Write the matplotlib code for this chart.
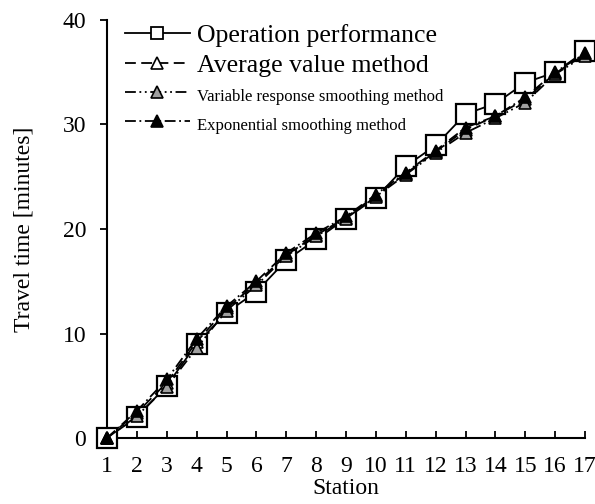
import numpy as np
import matplotlib.pyplot as plt
from matplotlib.lines import Line2D

plt.rcParams['font.family'] = ['Liberation Serif', 'DejaVu Serif']

# data
stations = np.arange(1, 18)
operation = [0, 2, 5, 9, 12, 14, 17, 19, 21, 23, 26, 28, 31, 32, 34, 35, 37]
average = [0, 2.4, 5.3, 9.2, 12.4, 14.8, 17.5, 19.4, 21.1, 23.2, 25.3, 27.4, 29.5, 30.8, 32.4, 34.9, 36.7]
variable = [0, 2.1, 4.9, 8.6, 12.2, 14.6, 17.4, 19.3, 21.0, 23.1, 25.2, 27.3, 29.2, 30.6, 32.1, 34.8, 36.6]
exponential = [0, 2.6, 5.6, 9.5, 12.6, 15.0, 17.7, 19.6, 21.2, 23.3, 25.4, 27.5, 29.7, 30.8, 32.6, 35.0, 36.8]

labels = ["Operation performance", "Average value method",
          "Variable response smoothing method", "Exponential smoothing method"]

fig = plt.figure(figsize=(5.95, 5.04), dpi=100)
ax = fig.add_axes([107/595, 1 - 438/504, (585 - 107)/595, (438 - 20)/504])

ax.plot(stations, operation, color='black', lw=1.3, ls='-', marker='s', ms=14,
        mfc='white', mec='black', mew=1.6, zorder=3, clip_on=False)
ax.plot(stations, average, color='black', lw=1.3, ls=(0, (6, 3)), marker='^', ms=9,
        mfc='white', mec='black', mew=1.2, zorder=4, clip_on=False)
ax.plot(stations, variable, color='black', lw=1.3, ls=(0, (6, 2, 1, 2, 1, 2)), marker='^', ms=9,
        mfc='#a0a0a0', mec='black', mew=1.2, zorder=5, clip_on=False)
ax.plot(stations, exponential, color='black', lw=1.3, ls=(0, (6, 2, 1, 2)), marker='^', ms=9,
        mfc='black', mec='black', mew=1.2, zorder=6, clip_on=False)

ax.set_xlim(1, 17)
ax.set_ylim(0, 40)
ax.set_xticks(stations)
ax.set_yticks([0, 10, 20, 30, 40])
ax.spines['top'].set_visible(False)
ax.spines['right'].set_visible(False)
ax.spines['left'].set_linewidth(1.5)
ax.spines['bottom'].set_linewidth(1.5)
ax.tick_params(axis='x', direction='in', length=5, width=1.3, labelsize=17, pad=13)
ax.tick_params(axis='y', direction='out', length=5, width=1.3, labelsize=17, pad=10)
ax.set_xlabel("Station", fontsize=17, labelpad=1)
ax.set_ylabel("Travel time [minutes]", fontsize=17, labelpad=20)

# legend proxies with smaller markers, as in the reference
handles = [
    Line2D([], [], color='black', lw=1.3, ls='-', marker='s', ms=9, mfc='white', mec='black', mew=1.3),
    Line2D([], [], color='black', lw=1.3, ls=(0, (6, 3)), marker='^', ms=8, mfc='white', mec='black', mew=1.2),
    Line2D([], [], color='black', lw=1.3, ls=(0, (6, 2, 1, 2, 1, 2)), marker='^', ms=8, mfc='#a0a0a0', mec='black', mew=1.2),
    Line2D([], [], color='black', lw=1.3, ls=(0, (6, 2, 1, 2)), marker='^', ms=8, mfc='black', mec='black', mew=1.2),
]
leg = ax.legend(handles, labels, loc='upper left', bbox_to_anchor=(-0.01, 1.045), frameon=False,
                handlelength=2.5, handletextpad=0.3, labelspacing=0.25, fontsize=18.5)
for i, t in enumerate(leg.get_texts()):
    if i >= 2:
        t.set_fontsize(12)

fig.savefig("out.png", dpi=100)
